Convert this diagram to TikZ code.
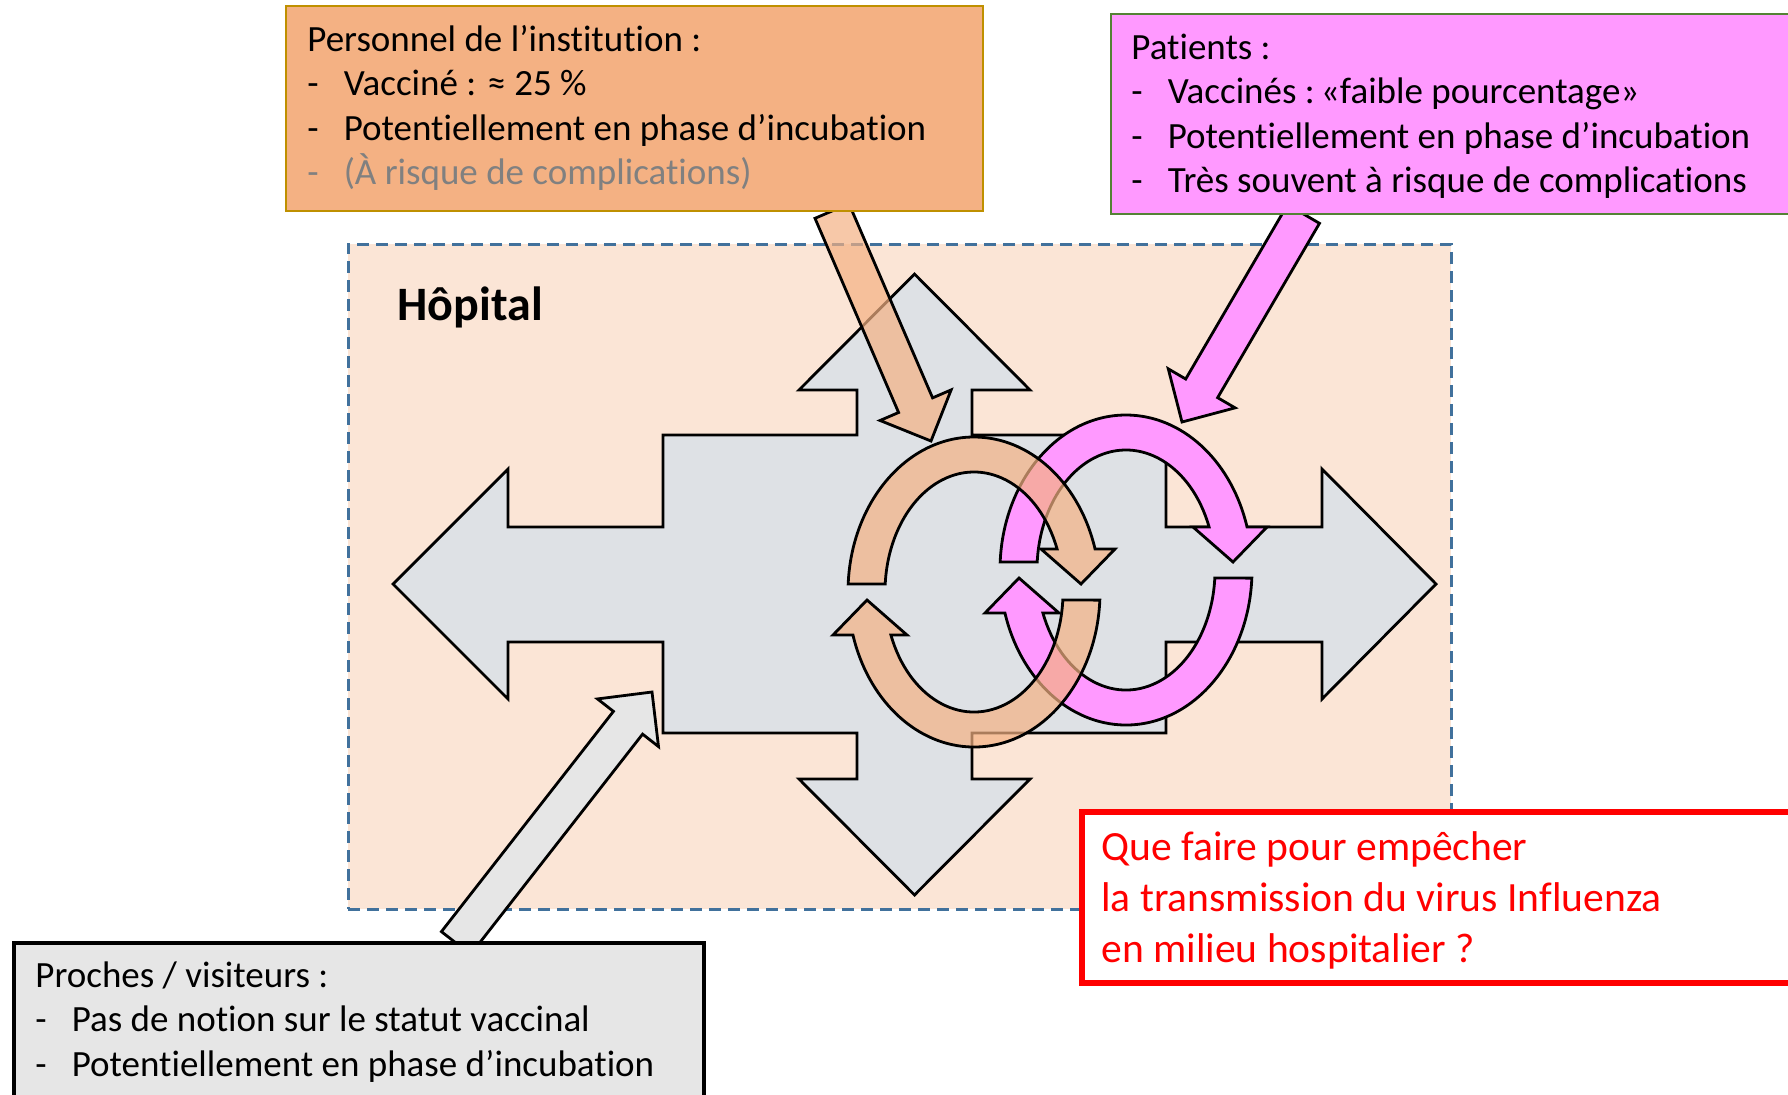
\documentclass[tikz,border=0pt]{standalone}
\usepackage{fontspec}
\setmainfont{Carlito}[Ligatures=NoCommon]
\usetikzlibrary{calc}
\definecolor{hopfill}{HTML}{FBE5D6}
\definecolor{hopline}{HTML}{41719C}
\definecolor{crossfill}{HTML}{DEE1E5}
\definecolor{persofill}{HTML}{F4B183}
\definecolor{persoline}{HTML}{BF9000}
\definecolor{patfill}{HTML}{FF99FF}
\definecolor{patline}{HTML}{548235}
\definecolor{prochesfill}{HTML}{E6E6E6}
\definecolor{risktext}{HTML}{808080}
\tikzset{
	infobox/.style={draw, anchor=north west, inner sep=0pt, outer sep=0pt, line width=1.3pt},
	infotext/.style={anchor=base west, align=left, inner sep=0pt, font=\fontsize{18.5}{22.25}\selectfont},
	outline/.style={draw=black, line width=1.4pt},
}
\newcommand{\dashitem}{\makebox[18.2pt][l]{-}}
\newcommand{\roundarrow}[1]{%
	\draw[#1] (176.2:89 and 120) -- (177:126 and 155)
		arc[start angle=177, end angle=16.1, x radius=126, y radius=155]
		-- (141,43) -- (107,8) -- (67,43) -- (21:89 and 120)
		arc[start angle=21, end angle=176.2, x radius=89, y radius=120] -- cycle;}
\newcommand{\fatarrow}[3]{%
	\coordinate (fa-m) at ($(#3)!19.5pt!(#2)$);
	\draw[#1] ($(#2)!9.25pt!90:(#3)$) -- ($(fa-m)!9.25pt!90:(#3)$) -- ($(fa-m)!19.35pt!90:(#3)$)
		-- (#3) -- ($(fa-m)!19.35pt!-90:(#3)$) -- ($(fa-m)!9.25pt!-90:(#3)$) -- ($(#2)!9.25pt!-90:(#3)$) -- cycle;}
\begin{document}
\begin{tikzpicture}[x=0.5pt, y=-0.5pt]
	\clip (0,0) rectangle (1788,1094);
	\node[infobox, fill=hopfill, draw=hopline, line width=1.5pt, dash pattern=on 6pt off 3.5pt,
		minimum width=551.5pt, minimum height=332.5pt] (hopital) at (348,244) {};
	\node[anchor=base west, inner sep=0pt, font=\bfseries\fontsize{24}{29}\selectfont] (hoplbl) at (397,320) {Hôpital};

	\draw[outline, fill=crossfill] (914.5,274) -- (1030,390) -- (972,390) -- (972,435) -- (1166,435) -- (1166,527)
		-- (1322,527) -- (1322,469) -- (1436,584) -- (1322,699) -- (1322,642) -- (1166,642) -- (1166,733)
		-- (972,733) -- (972,779) -- (1030,779) -- (914.5,895) -- (799,779) -- (857,779) -- (857,733)
		-- (663,733) -- (663,642) -- (508,642) -- (508,699) -- (393,584) -- (508,469) -- (508,527)
		-- (663,527) -- (663,435) -- (857,435) -- (857,390) -- (799,390) -- cycle;

	\begin{scope}[shift={(1126,570)}, yscale=-1]
		\roundarrow{outline, fill=patfill}
		\begin{scope}[rotate=180]
			\roundarrow{outline, fill=patfill}
		\end{scope}
	\end{scope}
	\begin{scope}[shift={(974,592)}, yscale=-1]
		\roundarrow{outline, fill=persofill, fill opacity=0.7}
		\begin{scope}[rotate=180]
			\roundarrow{outline, fill=persofill, fill opacity=0.7}
		\end{scope}
	\end{scope}

	\coordinate (persofoot) at (832,211);
	\coordinate (persotip) at (931,441);
	\coordinate (patfoot) at (1303.5,214);
	\coordinate (pattip) at (1182,422);
	\coordinate (prochesfoot) at (456,943);
	\coordinate (prochestip) at (652,692);
	\fatarrow{outline, fill=persofill, fill opacity=0.7}{persofoot}{persotip}
	\fatarrow{outline, fill=patfill}{patfoot}{pattip}
	\fatarrow{outline, fill=prochesfill}{prochesfoot}{prochestip}

	\node[infobox, fill=persofill, draw=persoline, minimum width=348.5pt, minimum height=102.5pt] (perso) at (286,6) {};
	\node[infotext] (persotxt) at (307,184.5) {Personnel de l’institution :\\
		\dashitem Vacciné : ≈ 25 \%\\
		\dashitem Potentiellement en phase d’incubation\\
		{\color{risktext}\dashitem (À risque de complications)}};

	\node[infobox, fill=patfill, draw=patline, minimum width=344.5pt, minimum height=100pt] (patients) at (1111,14) {};
	\node[infotext] (patientstxt) at (1131,192.5) {Patients :\\
		\dashitem Vaccinés :\,«faible pourcentage»\\
		\dashitem Potentiellement en phase d’incubation\\
		\dashitem Très souvent à risque de complications};

	\node[infobox, fill=prochesfill, line width=1.8pt, minimum width=345pt, minimum height=85pt] (proches) at (14,943) {};
	\node[infotext] (prochestxt) at (35,1076) {Proches / visiteurs :\\
		\dashitem Pas de notion sur le statut vaccinal\\
		\dashitem Potentiellement en phase d’incubation};

	\node[infobox, fill=white, draw=red, line width=3.2pt, minimum width=359pt, minimum height=85.5pt] (question) at (1082,812) {};
	\node[infotext, text=red, font=\fontsize{20.8}{25.5}\selectfont] (questiontxt) at (1101,962) {Que faire pour empêcher\\
		la transmission du virus Influenza\\
		en milieu hospitalier ?};
\end{tikzpicture}
\end{document}
